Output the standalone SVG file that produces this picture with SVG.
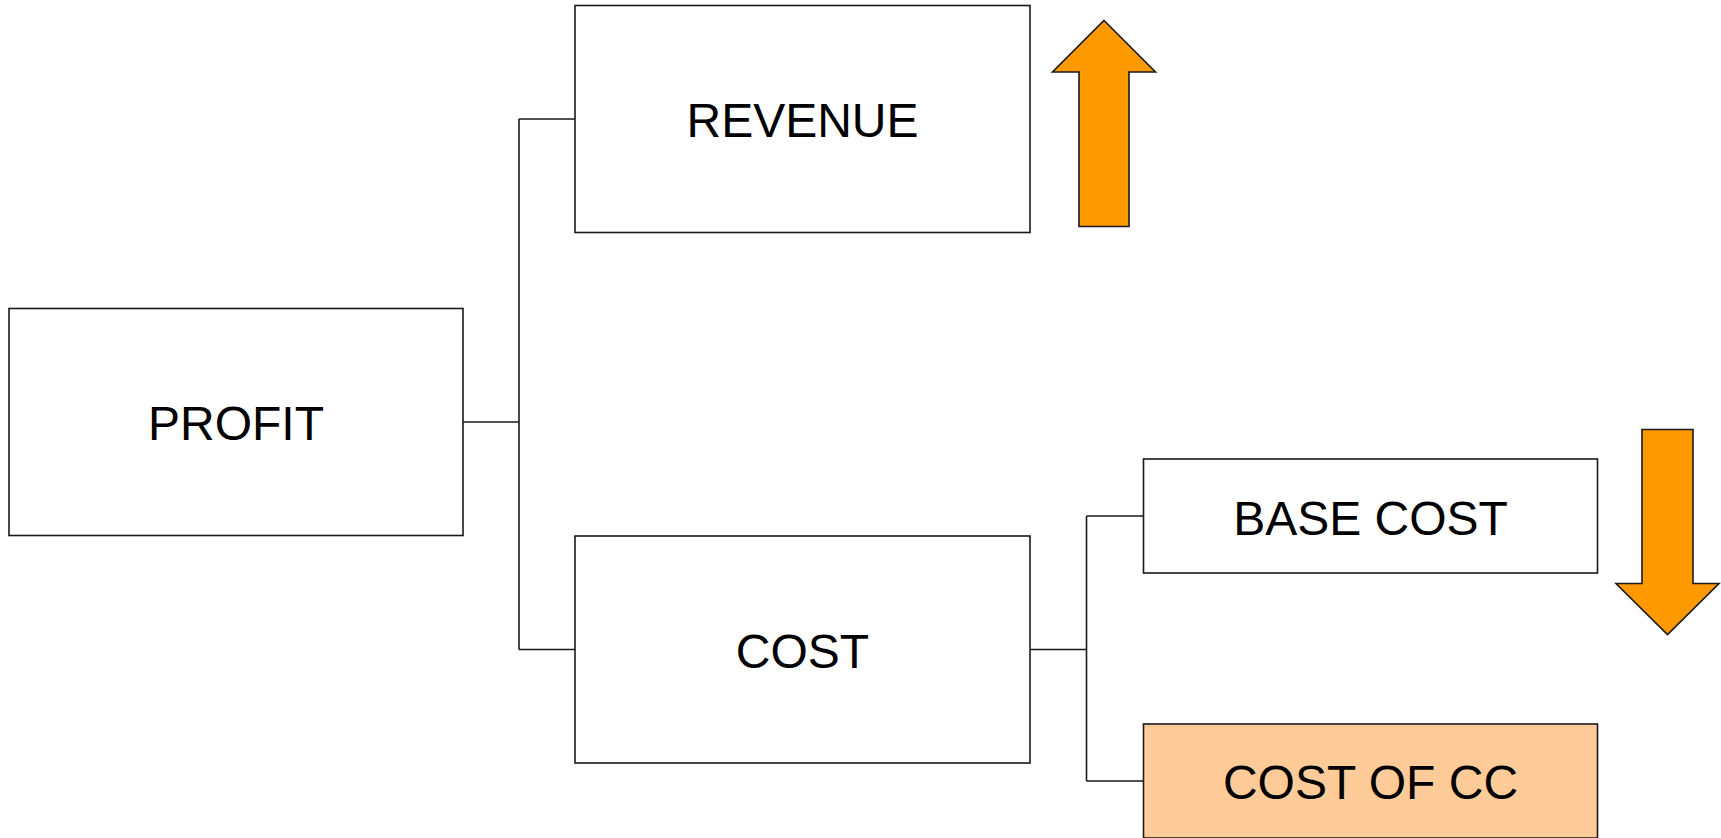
<svg xmlns="http://www.w3.org/2000/svg" width="1721" height="838" viewBox="0 0 1721 838">
  <style>
    .box { fill: #ffffff; stroke: #1a1a1a; stroke-width: 1.6; }
    .box.hl { fill: #ffcc99; }
    .label { font-family: "Liberation Sans", Arial, sans-serif; font-size: 48px; fill: #000000; text-anchor: middle; }
    .wire { fill: none; stroke: #1a1a1a; stroke-width: 1.6; }
    .trend { fill: #ff9900; stroke: #1a1a1a; stroke-width: 1.6; stroke-linejoin: miter; }
  </style>
  <rect width="1721" height="838" fill="#ffffff"/>

  <!-- tree connectors -->
  <g id="connectors">
    <path class="wire" d="M463,422 H519 M519,119 V649.5 M519,119 H575 M519,649.5 H575"/>
    <path class="wire" d="M1030,649.5 H1086.5 M1086.5,516 V781 M1086.5,516 H1143.5 M1086.5,781 H1143.5"/>
  </g>

  <g id="profit">
    <rect class="box" x="9" y="308.5" width="454" height="227"/>
    <text class="label" x="236" y="440">PROFIT</text>
  </g>

  <g id="revenue">
    <rect class="box" x="575" y="5.5" width="455" height="227"/>
    <text class="label" x="802.5" y="137">REVENUE</text>
  </g>

  <g id="cost">
    <rect class="box" x="575" y="536" width="455" height="227"/>
    <text class="label" x="802.5" y="668">COST</text>
  </g>

  <g id="base-cost">
    <rect class="box" x="1143.5" y="459" width="454" height="114"/>
    <text class="label" x="1370.5" y="535">BASE COST</text>
  </g>

  <g id="cost-of-cc">
    <rect class="box hl" x="1143.5" y="724" width="454" height="114"/>
    <text class="label" x="1370.5" y="799">COST OF CC</text>
  </g>

  <!-- trend arrows -->
  <g id="revenue-up">
    <polygon class="trend" points="1104,20.5 1155.5,72 1129,72 1129,226.5 1079,226.5 1079,72 1052.5,72"/>
  </g>
  <g id="base-cost-down">
    <polygon class="trend" points="1642,429.5 1693,429.5 1693,583.5 1719,583.5 1667.5,634.5 1616,583.5 1642,583.5"/>
  </g>
</svg>
